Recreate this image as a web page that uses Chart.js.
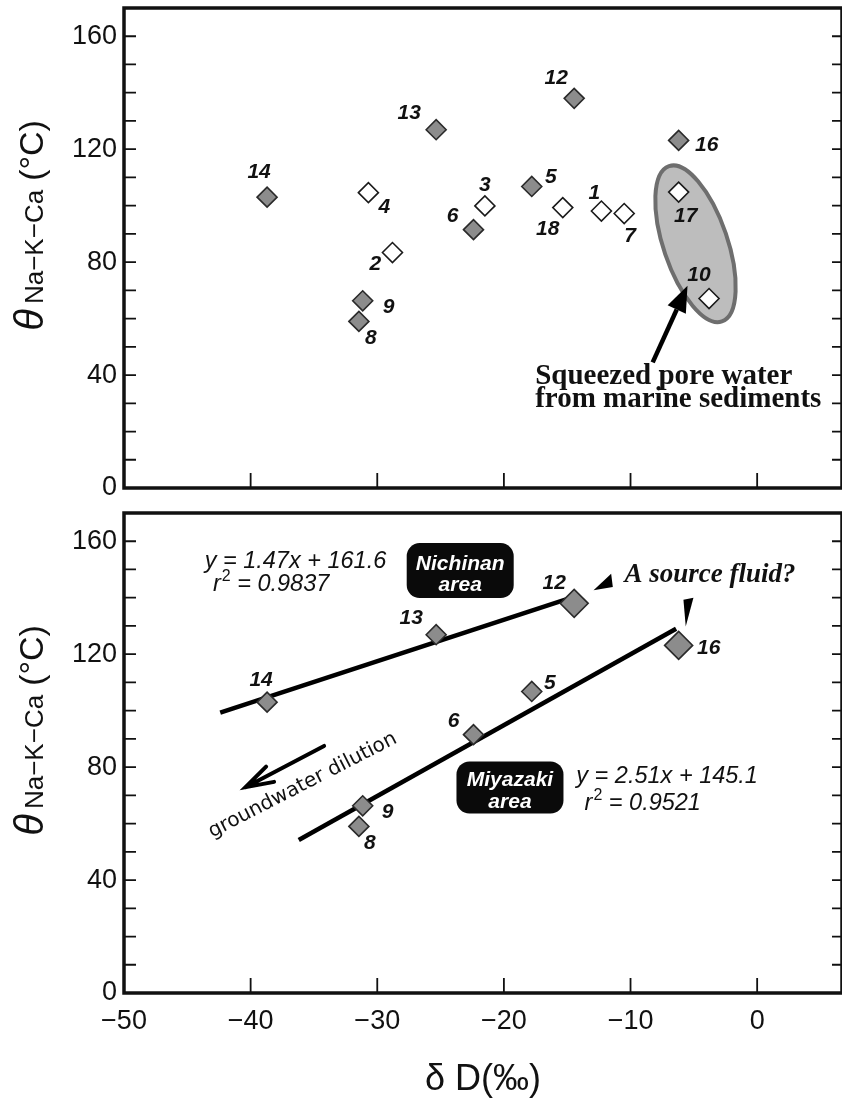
<!DOCTYPE html>
<html>
<head>
<meta charset="utf-8">
<script src="https://cdn.jsdelivr.net/npm/chart.js@4.4.1/dist/chart.umd.min.js"></script>
<style>
  html, body { margin: 0; padding: 0; background: #fff; overflow: hidden; }
  #wrap { position: relative; width: 842px; height: 1098px; overflow: hidden; }
  canvas { position: absolute; left: 0; display: block; }
</style>
</head>
<body>
<div id="wrap">
  <canvas id="topChart" width="842" height="505" style="top:0;width:842px;height:505px"></canvas>
  <canvas id="bottomChart" width="842" height="593" style="top:505px;width:842px;height:593px"></canvas>
</div>
<script>
// sample numbers and values
const grayIds  = ['14', '13', '12', '6', '5', '16', '9', '8'];
const grayDD   = [-38.7, -25.35, -14.45, -22.4, -17.8, -6.2, -31.15, -31.45];
const grayTemp = [103.0, 126.9, 138.0, 91.5, 106.8, 123.1, 66.3, 59.0];

const openIds  = ['4', '3', '18', '2', '1', '7', '17', '10'];
const openDD   = [-30.7, -21.5, -15.35, -28.8, -12.3, -10.5, -6.2, -3.8];
const openTemp = [104.6, 99.9, 99.3, 83.4, 98.1, 97.2, 104.8, 67.1];

// regression line end points
const nichinanFitDD   = [-42.4, -14.6];
const nichinanFitTemp = [99.3, 140.1];
const miyazakiFitDD   = [-36.2, -6.4];
const miyazakiFitTemp = [54.2, 129.0];

const xTickLabels = [-50, -40, -30, -20, -10, 0];
const yTickLabels = [0, 40, 80, 120, 160];

const bigIds = ['12', '16'];

Chart.defaults.font.family = '"Liberation Sans", Arial, sans-serif';
Chart.defaults.color = '#111';

const SANS = '"Liberation Sans", Arial, sans-serif';
const SERIF = '"Liberation Serif", "Times New Roman", serif';

// label offsets in px from each marker
const topLabelPos = {
  '14': [-8, -25], '13': [-27, -16], '12': [-18, -20], '6': [-21, -13], '5': [19, -9],
  '16': [28, 5], '9': [26, 6], '8': [12, 17], '4': [16, 15], '3': [0, -21],
  '18': [-15, 22], '2': [-17, 12], '1': [-7, -18], '7': [6, 23], '17': [7, 24], '10': [-10, -23]
};
const bottomLabelPos = {
  '14': [-6, -22], '13': [-25, -16], '12': [-20, -20], '6': [-20, -13], '5': [18, -8],
  '16': [30, 3], '9': [25, 6], '8': [11, 17]
};

function toXY(xs, ys) {
  return xs.map((x, i) => ({ x: x, y: ys[i] }));
}

function pix(chart, x, y) {
  return [chart.scales.x.getPixelForValue(x), chart.scales.y.getPixelForValue(y)];
}

function minus(v) {
  return v < 0 ? '\u2212' + (-v) : String(v);
}

function makeScales(withXLabels, xHeight) {
  return {
    x: {
      type: 'linear', min: -50, max: 6.7,
      grid: { display: false, drawTicks: false },
      border: { display: false },
      ticks: {
        display: withXLabels, stepSize: 10, autoSkip: false, maxRotation: 0,
        padding: 12, font: { size: 27 },
        callback: v => xTickLabels.includes(v) ? minus(v) : ''
      },
      title: {
        display: withXLabels, text: '\u03b4 D(\u2030)',
        font: { size: 36, lineHeight: 1 }, padding: { top: 0, bottom: 0 }
      },
      afterFit: s => {
        s.height = xHeight;
        s.paddingLeft = 0; s.paddingRight = 0; s.paddingTop = 0; s.paddingBottom = 0;
      }
    },
    y: {
      min: 0, max: 170,
      grid: { display: false, drawTicks: false },
      border: { display: false },
      ticks: {
        stepSize: 10, autoSkip: false, padding: 7, font: { size: 27 },
        callback: v => yTickLabels.includes(v) ? String(v) : ''
      },
      afterFit: s => {
        s.width = 124;
        s.paddingLeft = 0; s.paddingRight = 0; s.paddingTop = 0; s.paddingBottom = 0;
      }
    }
  };
}

// frame, inner ticks and the y title
const framePlugin = {
  id: 'frame',
  afterDatasetsDraw(chart) {
    const { ctx, chartArea: a, scales: { x, y } } = chart;
    ctx.save();
    ctx.strokeStyle = '#111';
    ctx.lineWidth = 1.8;
    ctx.beginPath();
    y.ticks.forEach(t => {
      if (t.value <= 0 || t.value >= 170) return;
      const py = y.getPixelForValue(t.value);
      ctx.moveTo(a.left, py); ctx.lineTo(a.left + 12, py);
      ctx.moveTo(a.right - 10, py); ctx.lineTo(a.right, py);
    });
    x.ticks.forEach(t => {
      if (t.value <= -50 || t.value % 10 !== 0) return;
      const px = x.getPixelForValue(t.value);
      ctx.moveTo(px, a.bottom); ctx.lineTo(px, a.bottom - 15);
    });
    ctx.stroke();
    ctx.lineWidth = 3.5;
    ctx.strokeRect(a.left, a.top, a.right - a.left, a.bottom - a.top);

    // y axis title: theta with Na-K-Ca subscript
    const parts = [
      { t: '\u03b8', f: 'italic 40px ' + SANS, gap: 5 },
      { t: 'Na\u2212K\u2212Ca', f: '26px ' + SANS, gap: 9 },
      { t: '(\u00b0C)', f: '34px ' + SANS, gap: 0 }
    ];
    let total = 0;
    parts.forEach(p => { ctx.font = p.f; p.w = ctx.measureText(p.t).width; total += p.w + p.gap; });
    const cy = y.getPixelForValue(93);
    ctx.translate(43, cy);
    ctx.rotate(-Math.PI / 2);
    ctx.fillStyle = '#111';
    ctx.textBaseline = 'alphabetic';
    ctx.textAlign = 'left';
    let cx = -total / 2;
    parts.forEach(p => { ctx.font = p.f; ctx.fillText(p.t, cx, 0); cx += p.w + p.gap; });
    ctx.restore();
  }
};

function labelPlugin(id, positions, datasetIds) {
  return {
    id: id,
    afterDatasetsDraw(chart) {
      const { ctx } = chart;
      ctx.save();
      ctx.font = 'italic bold 21px ' + SANS;
      ctx.fillStyle = '#111';
      ctx.textAlign = 'center';
      ctx.textBaseline = 'middle';
      datasetIds.forEach((ids, di) => {
        if (!ids) return;
        chart.getDatasetMeta(di).data.forEach((el, i) => {
          const off = positions[ids[i]] || [0, -20];
          ctx.fillText(ids[i], el.x + off[0], el.y + off[1]);
        });
      });
      ctx.restore();
    }
  };
}

function solidArrow(ctx, x0, y0, x1, y1, headLen, headW, lw) {
  const ang = Math.atan2(y1 - y0, x1 - x0);
  const bx = x1 - headLen * Math.cos(ang), by = y1 - headLen * Math.sin(ang);
  ctx.lineWidth = lw;
  ctx.beginPath(); ctx.moveTo(x0, y0); ctx.lineTo(bx, by); ctx.stroke();
  ctx.beginPath();
  ctx.moveTo(x1, y1);
  ctx.lineTo(bx + headW / 2 * Math.sin(ang), by - headW / 2 * Math.cos(ang));
  ctx.lineTo(bx - headW / 2 * Math.sin(ang), by + headW / 2 * Math.cos(ang));
  ctx.closePath(); ctx.fill();
}

function openArrow(ctx, x0, y0, x1, y1, barb, spread, lw) {
  const ang = Math.atan2(y0 - y1, x0 - x1);
  ctx.lineWidth = lw;
  ctx.lineCap = 'round';
  ctx.beginPath();
  ctx.moveTo(x0, y0); ctx.lineTo(x1, y1);
  ctx.moveTo(x1 + barb * Math.cos(ang + spread), y1 + barb * Math.sin(ang + spread));
  ctx.lineTo(x1, y1);
  ctx.lineTo(x1 + barb * Math.cos(ang - spread), y1 + barb * Math.sin(ang - spread));
  ctx.stroke();
}

function roundBox(ctx, cx, cy, w, h, r) {
  const x = cx - w / 2, y = cy - h / 2;
  ctx.beginPath();
  ctx.moveTo(x + r, y);
  ctx.arcTo(x + w, y, x + w, y + h, r);
  ctx.arcTo(x + w, y + h, x, y + h, r);
  ctx.arcTo(x, y + h, x, y, r);
  ctx.arcTo(x, y, x + w, y, r);
  ctx.closePath();
  ctx.fill();
}

function fitText(ctx, x, y, main, r2) {
  // "y = ..." or "r² = ..." in italic
  ctx.font = 'italic 23.5px ' + SANS;
  if (!r2) { ctx.fillText(main, x, y); return; }
  ctx.fillText('r', x, y);
  let w = ctx.measureText('r').width + 1;
  ctx.font = '16px ' + SANS;
  ctx.fillText('2', x + w, y - 8);
  w += ctx.measureText('2').width;
  ctx.font = 'italic 23.5px ' + SANS;
  ctx.fillText(' = ' + main, x + w, y);
}

const topNotes = {
  id: 'topNotes',
  beforeDatasetsDraw(chart) {
    const { ctx } = chart;
    const [cx, cy] = pix(chart, -4.87, 86.5);
    ctx.save();
    ctx.beginPath();
    ctx.ellipse(cx, cy, 82, 32, 71.2 * Math.PI / 180, 0, 2 * Math.PI);
    ctx.fillStyle = '#bdbdbd';
    ctx.fill();
    ctx.lineWidth = 4;
    ctx.strokeStyle = '#6e6e6e';
    ctx.stroke();
    ctx.restore();
  },
  afterDatasetsDraw(chart) {
    const { ctx } = chart;
    ctx.save();
    ctx.fillStyle = '#000';
    ctx.strokeStyle = '#000';
    const [ax0, ay0] = pix(chart, -8.25, 44.5);
    const [ax1, ay1] = pix(chart, -5.5, 71.6);
    solidArrow(ctx, ax0, ay0, ax1, ay1, 26, 20, 4.5);
    const [tx, ty] = pix(chart, -17.53, 37.0);
    ctx.font = 'bold 29px ' + SERIF;
    ctx.fillStyle = '#111';
    ctx.textAlign = 'left';
    ctx.textBaseline = 'alphabetic';
    ctx.fillText('Squeezed pore water', tx, ty);
    ctx.fillText('from marine sediments', tx, ty + 23);
    ctx.restore();
  }
};

const bottomNotes = {
  id: 'bottomNotes',
  afterDatasetsDraw(chart) {
    const { ctx } = chart;
    ctx.save();
    ctx.fillStyle = '#111';
    ctx.strokeStyle = '#111';
    ctx.textAlign = 'left';
    ctx.textBaseline = 'middle';

    let p = pix(chart, -43.63, 152.8);
    fitText(ctx, p[0], p[1], 'y = 1.47x + 161.6', false);
    p = pix(chart, -42.98, 144.6);
    fitText(ctx, p[0], p[1], '0.9837', true);
    p = pix(chart, -14.28, 76.6);
    fitText(ctx, p[0], p[1], 'y = 2.51x + 145.1', false);
    p = pix(chart, -13.63, 67.2);
    fitText(ctx, p[0], p[1], '0.9521', true);

    // area boxes
    [['Nichinan', -23.45, 149.6, 55], ['Miyazaki', -19.52, 72.8, 52]].forEach(b => {
      const [bx, by] = pix(chart, b[1], b[2]);
      ctx.fillStyle = '#0a0a0a';
      roundBox(ctx, bx, by, 107, b[3], 13);
      ctx.fillStyle = '#fff';
      ctx.font = 'italic bold 21px ' + SANS;
      ctx.textAlign = 'center';
      ctx.textBaseline = 'alphabetic';
      ctx.fillText(b[0], bx, by - 1);
      ctx.fillText('area', bx, by + 20.5);
    });

    // source-fluid pointers
    ctx.fillStyle = '#000';
    p = pix(chart, -12.92, 142.6);
    ctx.beginPath();
    ctx.moveTo(p[0], p[1]); ctx.lineTo(p[0] + 17.6, p[1] - 16.7); ctx.lineTo(p[0] + 19.3, p[1] - 3.4);
    ctx.closePath(); ctx.fill();
    p = pix(chart, -5.64, 129.8);
    ctx.beginPath();
    ctx.moveTo(p[0], p[1]); ctx.lineTo(p[0] - 2.3, p[1] - 26.7); ctx.lineTo(p[0] + 7.7, p[1] - 28.7);
    ctx.closePath(); ctx.fill();

    p = pix(chart, -10.48, 148.1);
    ctx.font = 'italic bold 27px ' + SERIF;
    ctx.fillStyle = '#111';
    ctx.textAlign = 'left';
    ctx.textBaseline = 'middle';
    ctx.fillText('A source fluid?', p[0], p[1]);

    // groundwater dilution arrow and text
    const a0 = pix(chart, -34.2, 87.5);
    const a1 = pix(chart, -40.4, 72.9);
    ctx.strokeStyle = '#000';
    openArrow(ctx, a0[0], a0[1], a1[0], a1[1], 29, 0.3, 4);
    p = pix(chart, -35.7, 71.9);
    ctx.translate(p[0], p[1]);
    ctx.rotate(-27.2 * Math.PI / 180);
    ctx.font = '20px "DejaVu Sans", sans-serif';
    ctx.textAlign = 'center';
    ctx.textBaseline = 'alphabetic';
    ctx.fillStyle = '#111';
    ctx.fillText('groundwater dilution', 0, 0);
    ctx.restore();
  }
};

const grayStyle = {
  pointStyle: 'rectRot', backgroundColor: '#8c8c8c', borderColor: '#2a2a2a',
  borderWidth: 1.6, showLine: false, order: 0
};
const openStyle = {
  pointStyle: 'rectRot', backgroundColor: '#ffffff', borderColor: '#1a1a1a',
  borderWidth: 1.6, showLine: false, order: 0
};

const common = {
  responsive: false,
  animation: false,
  devicePixelRatio: 1,
  events: [],
  plugins: { legend: { display: false }, tooltip: { enabled: false } }
};

// right edge of the plot frame sits just outside the picture, as in the figure
const frameLayout = { autoPadding: false, padding: { top: 8, right: -3, left: 0, bottom: 0 } };

new Chart(document.getElementById('topChart'), {
  type: 'scatter',
  data: {
    datasets: [
      Object.assign({ label: 'gray', data: toXY(grayDD, grayTemp), pointRadius: 10 }, grayStyle),
      Object.assign({ label: 'open', data: toXY(openDD, openTemp), pointRadius: 10 }, openStyle)
    ]
  },
  options: Object.assign({}, common, {
    layout: frameLayout,
    scales: makeScales(false, 17)
  }),
  plugins: [topNotes, framePlugin, labelPlugin('topLabels', topLabelPos, [grayIds, openIds])]
});

new Chart(document.getElementById('bottomChart'), {
  type: 'scatter',
  data: {
    datasets: [
      Object.assign({
        label: 'gray', data: toXY(grayDD, grayTemp),
        pointRadius: c => bigIds.includes(grayIds[c.dataIndex]) ? 14 : 10
      }, grayStyle),
      {
        type: 'line', label: 'Nichinan fit', data: toXY(nichinanFitDD, nichinanFitTemp),
        borderColor: '#000', borderWidth: 4.5, pointRadius: 0, order: 1
      },
      {
        type: 'line', label: 'Miyazaki fit', data: toXY(miyazakiFitDD, miyazakiFitTemp),
        borderColor: '#000', borderWidth: 4.5, pointRadius: 0, order: 1
      }
    ]
  },
  options: Object.assign({}, common, {
    layout: frameLayout,
    scales: makeScales(true, 105)
  }),
  plugins: [bottomNotes, framePlugin, labelPlugin('bottomLabels', bottomLabelPos, [grayIds, null, null])]
});
</script>
</body>
</html>
